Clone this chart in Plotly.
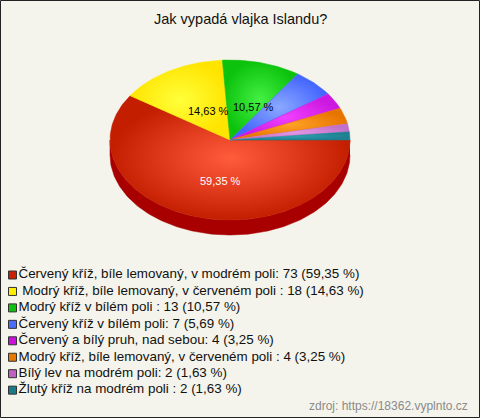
import numpy as np
import plotly.graph_objects as go

# ---- data ----
title_text = "Jak vypadá vlajka Islandu?"
labels = [
    "Červený kříž, bíle lemovaný, v modrém poli",
    "\u00a0Modrý kříž, bíle lemovaný, v červeném poli ",
    "Modrý kříž v bílém poli ",
    "Červený kříž v bílém poli",
    "Červený a bílý pruh, nad sebou",
    "Modrý kříž, bíle lemovaný, v červeném poli ",
    "Bílý lev na modrém poli",
    "Žlutý kříž na modrém poli ",
]
counts = [73, 18, 13, 7, 4, 4, 2, 2]
source_text = "zdroj: https://18362.vyplnto.cz"

# ---- styles ----
dark = ["#c41e00", "#ffe400", "#0cc20c", "#4466ff", "#cc18e0", "#e87400", "#c070c8", "#1e8090"]
light = ["#ff5c3c", "#ffff3a", "#44f044", "#8aa8ff", "#f040ff", "#ffa428", "#e89ae8", "#30a2b2"]
side = ["#a80000", "#c8b000", "#089008", "#3050c0", "#9010a8", "#b05800", "#905090", "#145e6a"]
legend_colors = ["#c82000", "#ffee00", "#10c010", "#4a6cff", "#cc10dd", "#e87800", "#c060c0", "#1a7a8a"]
font_family = "Liberation Sans, Arial, sans-serif"

W, H = 480, 418
cx, cy, rx, ry, depth = 230, 140, 120, 80, 15

total = sum(counts)
fracs = np.array(counts) / total
ends = np.cumsum(fracs) * 360.0
starts = ends - fracs * 360.0
pct_txt = [f"{f*100:.2f}".replace(".", ",") for f in fracs]

fig = go.Figure()

# side (front half visible: 0..180 deg clockwise from east)
for i, (a0, a1) in enumerate(zip(starts, ends)):
    s0, s1 = max(a0, 0.0), min(a1, 180.0)
    if s1 <= s0:
        continue
    t = np.radians(np.linspace(s0, s1, int(s1 - s0) + 2))
    xs = cx + rx * np.cos(t)
    ys = cy + ry * np.sin(t)
    X = np.concatenate([xs, xs[::-1]])
    Y = np.concatenate([ys, ys[::-1] + depth])
    fig.add_trace(go.Scatter(
        x=X, y=Y, mode="lines", fill="toself",
        line=dict(width=0.5, color=side[i]), fillcolor=side[i],
        hoverinfo="skip", showlegend=False))

# top faces
for i, (a0, a1) in enumerate(zip(starts, ends)):
    t = np.radians(np.linspace(a0, a1, int(a1 - a0) + 2))
    X = np.concatenate([[cx], cx + rx * np.cos(t), [cx]])
    Y = np.concatenate([[cy], cy + ry * np.sin(t), [cy]])
    fig.add_trace(go.Scatter(
        x=X, y=Y, mode="lines", fill="toself",
        line=dict(width=0.5, color=dark[i]),
        fillgradient=dict(type="radial", colorscale=[[0, light[i]], [1, dark[i]]]),
        hoverinfo="text", text=f"{labels[i].strip()}: {counts[i]}",
        showlegend=False))

# percentage labels on large slices
for i, (a0, a1) in enumerate(zip(starts, ends)):
    if fracs[i] < 0.10:
        continue
    m = np.radians((a0 + a1) / 2)
    fig.add_annotation(
        x=cx + 0.5 * rx * np.cos(m) + 8, y=cy + 0.48 * ry * np.sin(m) + 4,
        text=f"{pct_txt[i]} %", showarrow=False,
        font=dict(family=font_family, size=11, color="white" if i == 0 else "black"),
        xanchor="center", yanchor="middle")

# legend rows
n = len(counts)
rows = np.arange(n)
legend_texts = [f"{labels[i]}: {counts[i]} ({pct_txt[i]} %)" for i in range(n)]
fig.add_trace(go.Scatter(
    x=[12.5] * n, y=275 + rows * 16.45, mode="markers+text",
    marker=dict(symbol="square", size=8, color=legend_colors, line=dict(color="#333333", width=1)),
    text=legend_texts, textposition="middle right",
    textfont=dict(family=font_family, size=13.4, color="#111111"),
    hoverinfo="skip", showlegend=False, cliponaxis=False))

fig.add_annotation(x=240, y=19, text=title_text, showarrow=False,
                   font=dict(family=font_family, size=14.5, color="#111111"),
                   xanchor="center", yanchor="middle")
fig.add_annotation(x=470, y=406, text=source_text, showarrow=False,
                   font=dict(family=font_family, size=12, color="#8a8a8a"),
                   xanchor="right", yanchor="middle")

fig.add_shape(type="rect", x0=0.5, x1=W - 0.5, y0=0.5, y1=H - 0.5,
              line=dict(color="#222222", width=1), layer="above")

fig.update_layout(
    width=W, height=H, margin=dict(l=0, r=0, t=0, b=0),
    paper_bgcolor="#f4f4ec", plot_bgcolor="#f4f4ec",
    xaxis=dict(range=[0, W], visible=False, fixedrange=True),
    yaxis=dict(range=[H, 0], visible=False, fixedrange=True),
    showlegend=False,
)

fig.write_html("out.html", config={"displayModeBar": False},
               post_script="document.body.style.margin='0';document.body.style.overflow='hidden';")
